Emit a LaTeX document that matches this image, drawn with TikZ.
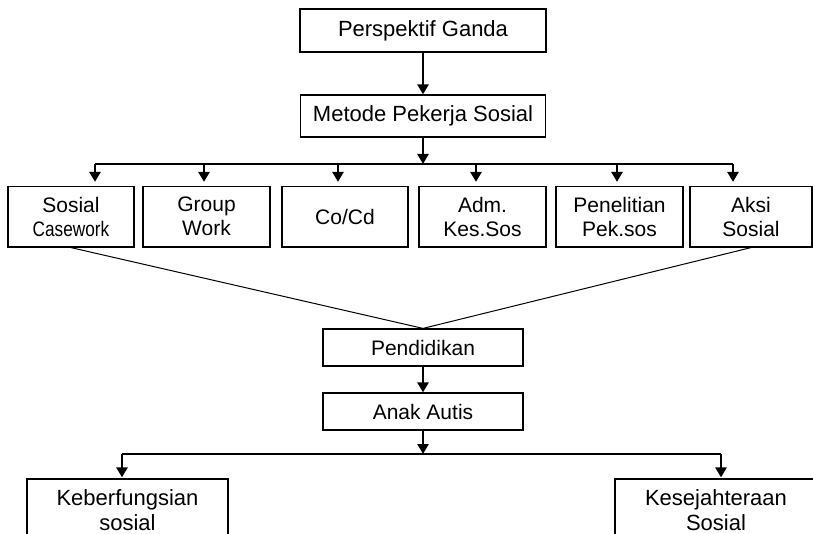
\documentclass[tikz,border=0pt]{standalone}
\usepackage{fontspec}
\usepackage{graphicx}
\setmainfont{Liberation Sans}
\usetikzlibrary{arrows.meta}
\begin{document}
\begin{tikzpicture}[x=1pt,y=-1pt,
  box/.style={draw, line width=1.2pt, inner sep=0pt, align=center, font=\fontsize{21}{24}\selectfont},
  topbox/.style={box, font=\fontsize{22}{24}\selectfont},
  smallbox/.style={box, minimum width=126pt, minimum height=60.5pt},
  bigbox/.style={box, font=\fontsize{22}{25}\selectfont, minimum height=62pt},
  arr/.style={line width=2.6pt, -{Triangle[width=11pt,length=10pt]}},
  conn/.style={line width=1.3pt},
  slant/.style={line width=1pt}]
\clip (0,0) rectangle (813,534);
\fill[white] (0,0) rectangle (813,534);

\node[topbox, minimum width=246pt, minimum height=43pt] (pg) at (423,30.5) {Perspektif Ganda};
\node[topbox, minimum width=245pt, minimum height=42pt] (mps) at (423,116) {Metode Pekerja Sosial};

\node[smallbox] (b1) at (71,216.75) {Sosial\\\scalebox{0.82}[1]{Casework}};
\node[smallbox, minimum width=127pt] (b2) at (206.5,216.75) {Group\\Work};
\node[smallbox] (b3) at (345,216.75) {Co/Cd};
\node[smallbox, minimum width=127pt] (b4) at (482.5,216.75) {Adm.\\Kes.Sos};
\node[smallbox, minimum width=127pt] (b5) at (619.5,216.75) {Penelitian\\Pek.sos};
\node[smallbox, minimum width=122pt] (b6) at (751,216.75) {Aksi\\Sosial};

\node[box, minimum width=200pt, minimum height=37pt] (pend) at (423,347.5) {Pendidikan};
\node[box, minimum width=200pt, minimum height=37pt] (anak) at (423,411.5) {Anak Autis};

\node[bigbox, minimum width=201pt] (kf) at (127.5,510) {Keberfungsian\\sosial};
\node[bigbox, minimum width=202pt] (ks) at (716,510) {Kesejahteraan\\Sosial};

% top distribution
\coordinate (h1) at (423,164);
\coordinate (hl) at (95,164);
\coordinate (hr) at (733,164);
\draw[arr] (pg.south) -- (mps.north);
\draw[arr] (mps.south) -- (h1);
\draw[conn] (hl) -- (hr);
\coordinate (t1) at (95,164);
\coordinate (t2) at (204,164);
\coordinate (t3) at (338,164);
\coordinate (t4) at (476,164);
\coordinate (t5) at (617,164);
\coordinate (t6) at (733,164);
\draw[arr, shorten >=4pt] (t1) -- (t1 |- b1.north);
\draw[arr, shorten >=4pt] (t2) -- (t2 |- b2.north);
\draw[arr, shorten >=4pt] (t3) -- (t3 |- b3.north);
\draw[arr, shorten >=4pt] (t4) -- (t4 |- b4.north);
\draw[arr, shorten >=4pt] (t5) -- (t5 |- b5.north);
\draw[arr, shorten >=4pt] (t6) -- (t6 |- b6.north);

% converging lines
\draw[slant] (b1.south) -- (pend.north) -- (b6.south);

\draw[arr] (pend.south) -- (anak.north);

% bottom distribution
\coordinate (h2) at (423,454);
\coordinate (u1) at (122,454);
\coordinate (u2) at (721,454);
\draw[arr] (anak.south) -- (h2);
\draw[conn] (u1) -- (u2);
\draw[arr, shorten >=1pt] (u1) -- (u1 |- kf.north);
\draw[arr, shorten >=1pt] (u2) -- (u2 |- ks.north);
\end{tikzpicture}
\end{document}
